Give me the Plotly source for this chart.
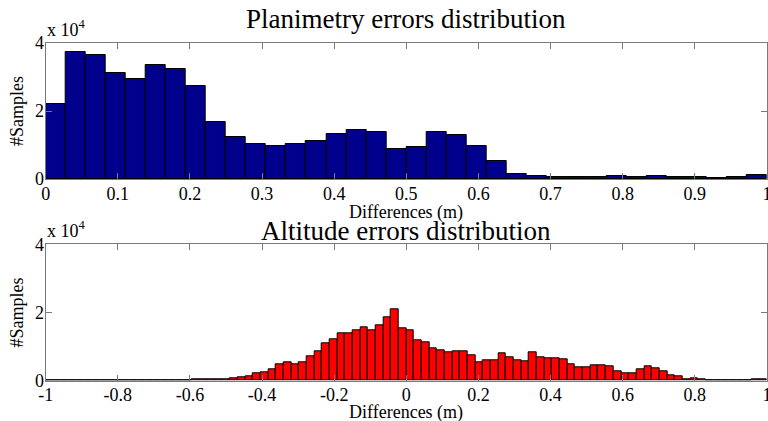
import numpy as np
import plotly.graph_objects as go

# ---------------- data ----------------
top_bin_start = 0.0
top_bin_width = 1.0 / 36
top_counts = [22100, 37500, 36500, 31100, 29400, 33400, 32300, 27500, 16800,
              12300, 10300, 9600, 10300, 11100, 13100, 14300, 13700, 8900,
              9500, 13700, 12900, 9600, 5300, 1500, 1000, 500, 500, 500,
              900, 500, 800, 500, 500, 200, 700, 1100]

bot_bin_start = -1.0
bot_bin_width = 1.0 / 47
bot_counts = ([0] * 15 +                                  # k=-47..-33
              [150, 0, 150, 150, 300, 300, 300, 300, 300,  # k=-32..-24
               700, 1100, 1300, 2100, 2400, 3200, 4800, 5300, 4900, 5300,
               7200, 8700, 10900, 12100, 14000, 14000, 14800, 15800, 14900,
               16300, 18500, 21000, 15500,                 # k=-23..-1
               14800, 11800, 11400, 9600, 8900, 8400, 8700, 8700, 7500, 5400,
               6000, 6000, 8100, 7000, 6000, 5800, 8400, 6800, 6600, 6600,
               6200, 4700, 3900, 3900, 4500, 4500, 4100, 2800, 2200, 2200,
               3400, 4100, 3600, 2800, 1700, 1400, 400, 600, 400,
               100, 100, 100, 100, 100, 100, 500, 500])    # k=0..46

top_title = "Planimetry errors distribution"
bot_title = "Altitude errors distribution"
x_title = "Differences (m)"
y_title = "#Samples"
y_tickvals = [0, 20000, 40000]
y_ticktext = ["0", "2", "4"]
top_xticks = [0, 0.1, 0.2, 0.3, 0.4, 0.5, 0.6, 0.7, 0.8, 0.9, 1]
top_xtext = ["0", "0.1", "0.2", "0.3", "0.4", "0.5", "0.6", "0.7", "0.8", "0.9", "1"]
bot_xticks = [-1, -0.8, -0.6, -0.4, -0.2, 0, 0.2, 0.4, 0.6, 0.8, 1]
bot_xtext = ["-1", "-0.8", "-0.6", "-0.4", "-0.2", "0", "0.2", "0.4", "0.6", "0.8", "1"]

# ---------------- figure ----------------
W, H = 768, 421
FONT = "Liberation Serif"

top_centers = top_bin_start + top_bin_width * (np.arange(len(top_counts)) + 0.5)
bot_centers = bot_bin_start + bot_bin_width * (np.arange(len(bot_counts)) + 0.5)

fig = go.Figure()
fig.add_trace(go.Bar(x=top_centers, y=top_counts, width=top_bin_width,
                     marker=dict(color="#00008c", line=dict(color="black", width=1)),
                     xaxis="x", yaxis="y", showlegend=False))
fig.add_trace(go.Bar(x=bot_centers, y=bot_counts, width=bot_bin_width,
                     marker=dict(color="#ff0000", line=dict(color="black", width=1)),
                     xaxis="x2", yaxis="y2", showlegend=False))

x0, x1 = 45.7 / W, 767.0 / W
top_dom = [1 - 179.0 / H, 1 - 43.0 / H]
bot_dom = [1 - 380.7 / H, 1 - 244.3 / H]

axis_common = dict(showline=True, linecolor="#7a7a7a", linewidth=1, mirror="ticks",
                   ticks="inside", ticklen=6, tickcolor="#7a7a7a", showgrid=False,
                   zeroline=False, automargin=False, ticklabeloverflow="allow",
                   tickfont=dict(family=FONT, size=18, color="black"))

fig.update_layout(
    width=W, height=H, margin=dict(l=0, r=0, t=0, b=0),
    font=dict(family=FONT, color="black"),
    paper_bgcolor="white", plot_bgcolor="white", bargap=0,
    xaxis=dict(domain=[x0, x1], range=[0, 1], anchor="y", ticklabelstandoff=-2,
               tickvals=top_xticks, ticktext=top_xtext, **axis_common),
    yaxis=dict(domain=top_dom, range=[0, 40000], anchor="x", ticklabelstandoff=-3,
               tickvals=y_tickvals, ticktext=y_ticktext, **axis_common),
    xaxis2=dict(domain=[x0, x1], range=[-1, 1], anchor="y2", ticklabelstandoff=-2,
                tickvals=bot_xticks, ticktext=bot_xtext, **axis_common),
    yaxis2=dict(domain=bot_dom, range=[0, 40000], anchor="x2", ticklabelstandoff=-3,
                tickvals=y_tickvals, ticktext=y_ticktext, **axis_common),
)

def ann(text, x, y, size, xanchor="center", yanchor="middle", angle=0):
    fig.add_annotation(text=text, x=x, y=y, xref="paper", yref="paper",
                       xanchor=xanchor, yanchor=yanchor, showarrow=False,
                       textangle=angle, font=dict(family=FONT, size=size, color="black"))

cx = (x0 + x1) / 2
ann(top_title, cx, 1 - 19 / H, 27)
ann(bot_title, cx, 1 - 231 / H, 27)
ann(x_title, cx, 1 - 212 / H, 18)
ann(x_title, cx, 1 - 412 / H, 18)
ann(y_title, 17 / W, (top_dom[0] + top_dom[1]) / 2, 18, angle=-90)
ann(y_title, 17 / W, (bot_dom[0] + bot_dom[1]) / 2, 18, angle=-90)
ann("x 10<sup>4</sup>", 45.0 / W, 1 - 42 / H, 18, xanchor="left", yanchor="bottom")
ann("x 10<sup>4</sup>", 45.0 / W, 1 - 243 / H, 18, xanchor="left", yanchor="bottom")

fig.write_html("out.html")
